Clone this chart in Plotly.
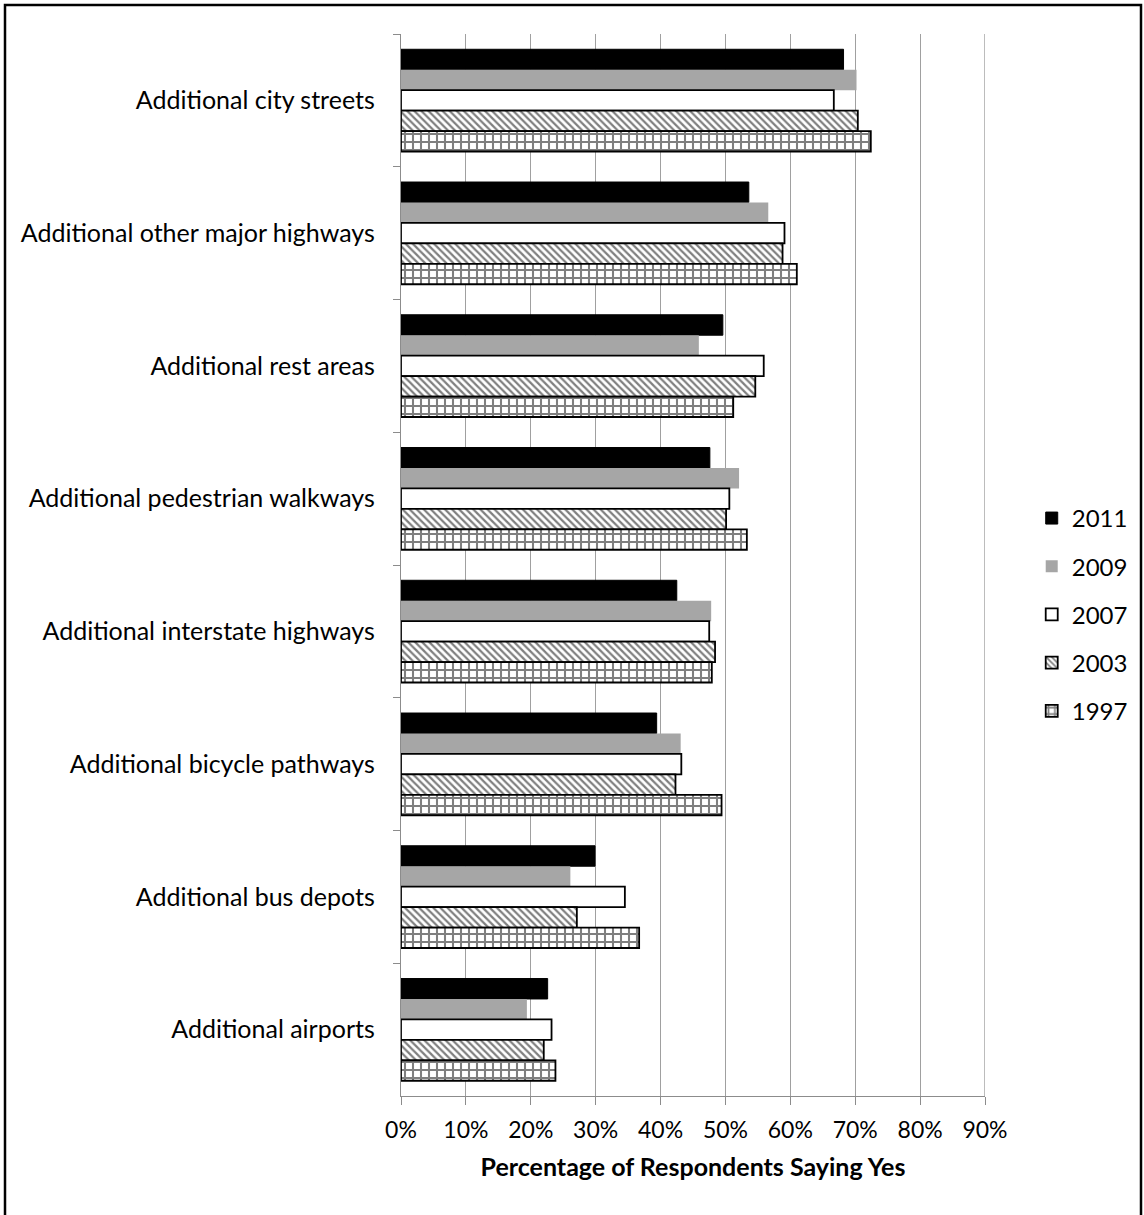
import plotly.graph_objects as go

# Survey items, listed top to bottom
categories = [
    "Additional city streets",
    "Additional other major highways",
    "Additional rest areas",
    "Additional pedestrian walkways",
    "Additional interstate highways",
    "Additional bicycle pathways",
    "Additional bus depots",
    "Additional airports",
]

# Percentage of respondents saying yes, per survey year
pct_2011 = [68.2, 53.6, 49.6, 47.6, 42.5, 39.4, 29.9, 22.6]
pct_2009 = [70.2, 56.6, 45.9, 52.1, 47.8, 43.1, 26.1, 19.4]
pct_2007 = [66.7, 59.1, 55.9, 50.6, 47.5, 43.2, 34.5, 23.2]
pct_2003 = [70.4, 58.8, 54.6, 50.1, 48.4, 42.3, 27.1, 22.0]
pct_1997 = [72.4, 61.0, 51.2, 53.3, 47.9, 49.4, 36.7, 23.8]

x_ticks = [0, 10, 20, 30, 40, 50, 60, 70, 80, 90]
x_tick_labels = [f"{v}%" for v in x_ticks]

FONT = "Lato, 'Open Sans', sans-serif"
GRID = "#a0a0a0"

series = [
    ("2011", pct_2011, dict(color="black", line=dict(color="black", width=1))),
    ("2009", pct_2009, dict(color="#a6a6a6", line=dict(width=0))),
    ("2007", pct_2007, dict(color="white", line=dict(color="black", width=1.8))),
    ("2003", pct_2003, dict(color="white",
                            pattern=dict(shape="\\", fgcolor="black", bgcolor="white",
                                         size=5, solidity=0.45),
                            line=dict(color="black", width=1.8))),
    ("1997", pct_1997, dict(color="white",
                            pattern=dict(shape="+", fgcolor="black", bgcolor="white",
                                         size=8, solidity=0.45),
                            line=dict(color="black", width=1.8))),
]

fig = go.Figure()
for name, vals, marker in series:
    fig.add_trace(go.Bar(
        y=categories, x=vals, name=name, orientation="h",
        marker=marker, legendgroup=name,
    ))

fig.update_layout(
    width=1144, height=1215,
    margin=dict(l=401, r=159, t=34, b=119, autoexpand=False),
    paper_bgcolor="white", plot_bgcolor="white",
    barmode="group", bargap=0.23, bargroupgap=0,
    font=dict(family=FONT, size=25, color="black"),
    legend=dict(
        x=1.08, xanchor="left", y=0.565, yanchor="top",
        traceorder="grouped", tracegroupgap=14,
        font=dict(size=24), itemwidth=30,
    ),
    shapes=[
        # outer chart frame
        dict(type="rect", xref="paper", yref="paper",
             x0=(5 - 401) / 584, x1=(1141 - 401) / 584,
             y0=1 - (1240 - 34) / 1062, y1=1 - (5 - 34) / 1062,
             line=dict(color="black", width=2.5), fillcolor="rgba(0,0,0,0)",
             layer="below"),
        # gridline at the right end of the value axis
        dict(type="line", xref="x", yref="paper",
             x0=x_ticks[-1], x1=x_ticks[-1], y0=0, y1=1,
             line=dict(color=GRID, width=1.4), layer="below"),
    ],
)

fig.update_xaxes(
    range=[0, 90], tickvals=x_ticks, ticktext=x_tick_labels,
    showgrid=True, gridcolor=GRID, gridwidth=1.4,
    showline=True, linecolor="#8c8c8c", linewidth=1.4,
    ticks="outside", ticklen=8, tickcolor="#8c8c8c", tickwidth=1.4,
    ticklabelstandoff=5, zeroline=False,
    tickfont=dict(size=23),
    title=dict(text="Percentage of Respondents Saying Yes",
               font=dict(size=25, weight="bold"), standoff=16),
    automargin=False, fixedrange=True,
)
fig.update_yaxes(
    autorange="reversed", showgrid=False,
    showline=True, linecolor="#8c8c8c", linewidth=1.4,
    ticks="outside", ticklen=7, tickcolor="#8c8c8c", tickwidth=1.4,
    tickson="boundaries", ticklabelstandoff=20,
    automargin=False, fixedrange=True,
)

fig.write_html("out.html")
